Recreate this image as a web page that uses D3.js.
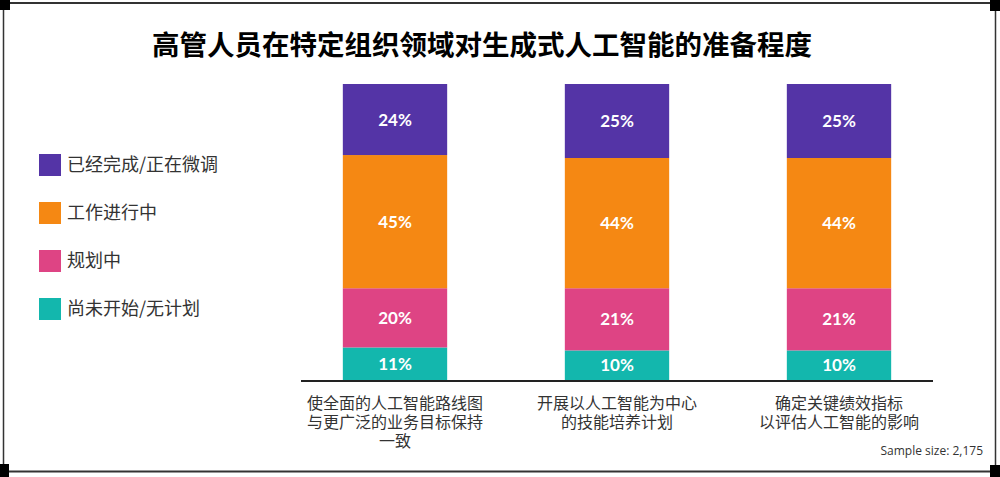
<!DOCTYPE html>
<html>
<head>
<meta charset="utf-8">
<script src="https://cdn.jsdelivr.net/npm/d3@7"></script>
<style>
html,body{margin:0;padding:0;background:#fff;}
svg{display:block;}
</style>
</head>
<body>
<svg id="chart" width="1000" height="477"></svg>
<script>
const title = "高管人员在特定组织领域对生成式人工智能的准备程度";
const categories = ["c1", "c2", "c3"];
const categoryLabels = [
  ["使全面的人工智能路线图", "与更广泛的业务目标保持", "一致"],
  ["开展以人工智能为中心", "的技能培养计划"],
  ["确定关键绩效指标", "以评估人工智能的影响"]
];
const seriesNames = ["尚未开始/无计划", "规划中", "工作进行中", "已经完成/正在微调"];
const seriesColors = ["#13b7ad", "#de4484", "#f58813", "#5434a6"];
const notStarted = [11, 10, 10];
const planning = [20, 21, 21];
const inProgress = [45, 44, 44];
const completed = [24, 25, 25];
const sampleNote = "Sample size: 2,175";

const seriesValues = [notStarted, planning, inProgress, completed];
const rows = categories.map((c, i) => {
  const r = {cat: c};
  seriesNames.forEach((s, j) => r[s] = seriesValues[j][i]);
  return r;
});

const svg = d3.select("#chart");
const cjk = "'Noto Sans CJK SC','Noto Sans',sans-serif";

// frame
svg.append("line").attr("x1", 0).attr("x2", 1000).attr("y1", 3).attr("y2", 3).attr("stroke", "#333").attr("stroke-width", 2);
svg.append("line").attr("x1", 0).attr("x2", 1000).attr("y1", 471.5).attr("y2", 471.5).attr("stroke", "#333").attr("stroke-width", 2);
svg.append("line").attr("x1", 3.5).attr("x2", 3.5).attr("y1", 0).attr("y2", 477).attr("stroke", "#333").attr("stroke-width", 1.5);
svg.append("line").attr("x1", 995.5).attr("x2", 995.5).attr("y1", 0).attr("y2", 477).attr("stroke", "#333").attr("stroke-width", 1.5);
[[0,0,10,10],[990,0,10,11],[0,464,9,13],[990,465,10,12]].forEach(d => {
  svg.append("rect").attr("x", d[0]).attr("y", d[1]).attr("width", d[2]).attr("height", d[3]).attr("fill", "#000");
});

// title
svg.append("text").attr("x", 482).attr("y", 55).attr("text-anchor", "middle")
  .attr("font-family", cjk).attr("font-weight", 700).attr("font-size", 27.5).attr("fill", "#000")
  .text(title);

// scales
const x = d3.scaleBand().domain(categories).range([284, 950]).paddingInner(0.53).paddingOuter(0.265);
const y = d3.scaleLinear().domain([0, 100]).range([380, 84]);

const stacked = d3.stack().keys(seriesNames)(rows);

const g = svg.append("g");
stacked.forEach((layer, j) => {
  const lg = g.append("g");
  lg.selectAll("rect").data(layer).join("rect")
    .attr("x", d => x(d.data.cat))
    .attr("width", x.bandwidth())
    .attr("y", d => y(d[1]))
    .attr("height", d => y(d[0]) - y(d[1]))
    .attr("fill", seriesColors[j]);
  lg.selectAll("text").data(layer).join("text")
    .attr("x", d => x(d.data.cat) + x.bandwidth() / 2)
    .attr("y", d => (y(d[0]) + y(d[1])) / 2 + 6)
    .attr("text-anchor", "middle")
    .attr("font-family", "Lato, 'DejaVu Sans', sans-serif")
    .attr("font-weight", 700)
    .attr("font-size", 17)
    .attr("fill", "#fff")
    .text(d => (d[1] - d[0]) + "%");
});

// axis
const axis = d3.axisBottom(x).tickSize(0).tickFormat("");
const ax = svg.append("g").attr("transform", "translate(0,381)").call(axis);
ax.select(".domain").attr("d", "M301,0H933").attr("stroke", "#222").attr("stroke-width", 2);

// category labels
categories.forEach((c, i) => {
  categoryLabels[i].forEach((line, k) => {
    svg.append("text").attr("text-anchor", "middle")
      .attr("font-family", cjk).attr("font-size", 16).attr("fill", "#333")
      .attr("x", x(c) + x.bandwidth() / 2).attr("y", 409 + k * 19).text(line);
  });
});

// legend
const legendOrder = [3, 2, 1, 0];
legendOrder.forEach((j, k) => {
  const yy = 154 + k * 48;
  svg.append("rect").attr("x", 39).attr("y", yy).attr("width", 22).attr("height", 22).attr("fill", seriesColors[j]);
  svg.append("text").attr("x", 67).attr("y", yy + 17)
    .attr("font-family", cjk).attr("font-size", 18).attr("fill", "#333")
    .text(seriesNames[j]);
});

// note
svg.append("text").attr("x", 983).attr("y", 455).attr("text-anchor", "end")
  .attr("font-family", "'Open Sans','DejaVu Sans',sans-serif").attr("font-size", 12).attr("fill", "#333")
  .text(sampleNote);
</script>
</body>
</html>
